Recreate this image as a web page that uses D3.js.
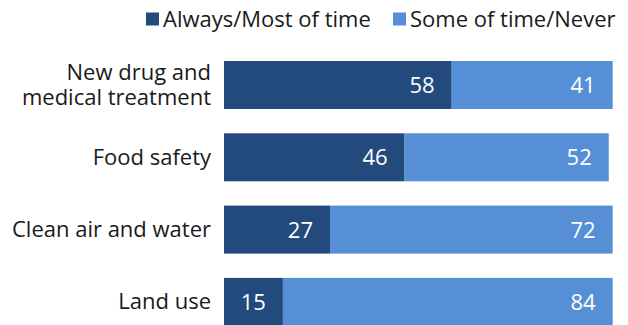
<!DOCTYPE html>
<html>
<head>
<meta charset="utf-8">
<script src="https://cdn.jsdelivr.net/npm/d3@7"></script>
<style>
  html, body { margin: 0; padding: 0; background: #fff; }
  svg { display: block; font-family: "Open Sans", sans-serif; }
</style>
</head>
<body>
<svg id="chart" width="628" height="325"></svg>
<script>
// Survey topics and the two answer groups (percent)
const categories = ["New drug and\nmedical treatment", "Food safety", "Clean air and water", "Land use"];
const alwaysMost = [58, 46, 27, 15];
const someNever = [41, 52, 72, 84];
const seriesNames = ["Always/Most of time", "Some of time/Never"];
const colors = ["#234a7d", "#568fd6"];

const svg = d3.select("#chart");
const left = 224;
const top0 = 61;
const step = 72.3;
const barH = 48;

const x = d3.scaleLinear().domain([0, 100]).range([left, left + 392.6]);
const y = d3.scaleBand()
  .domain(d3.range(categories.length))
  .range([top0, top0 + (categories.length - 1) * step + barH])
  .paddingInner((step - barH) / step)
  .paddingOuter(0);

const rows = categories.map((c, i) => ({ c, a: alwaysMost[i], b: someNever[i], i }));

const g = svg.append("g");

// Stacked bars with white value labels at the inner end of each segment
rows.forEach(r => {
  const segs = [
    { x0: 0, x1: r.a, v: r.a, col: colors[0] },
    { x0: r.a, x1: r.a + r.b, v: r.b, col: colors[1] }
  ];
  const yy = y(r.i);
  const bh = y.bandwidth();
  g.selectAll(null).data(segs).enter().append("rect")
    .attr("x", d => x(d.x0))
    .attr("y", yy)
    .attr("width", d => x(d.x1) - x(d.x0))
    .attr("height", bh)
    .attr("fill", d => d.col);
  g.selectAll(null).data(segs).enter().append("text")
    .attr("x", d => x(d.x1) - 17)
    .attr("y", yy + bh / 2 + 8)
    .attr("text-anchor", "end")
    .attr("fill", "#fff")
    .attr("font-size", 22)
    .text(d => d.v);

  // Category label, right aligned
  const lines = r.c.split("\n");
  const lh = 25;
  const cy = yy + bh / 2;
  const t = g.append("text")
    .attr("text-anchor", "end")
    .attr("font-size", 22)
    .attr("fill", "#1a1a1a");
  lines.forEach((ln, k) => {
    t.append("tspan")
      .attr("x", 211)
      .attr("y", cy + 7.5 + (k - (lines.length - 1) / 2) * lh)
      .text(ln);
  });
});

// Legend
const legendX = [146, 393];
seriesNames.forEach((name, i) => {
  svg.append("rect")
    .attr("x", legendX[i]).attr("y", 12.5)
    .attr("width", 13).attr("height", 13)
    .attr("fill", colors[i]);
  svg.append("text")
    .attr("x", legendX[i] + 17).attr("y", 27)
    .attr("font-size", 22)
    .attr("fill", "#1a1a1a")
    .text(name);
});
</script>
</body>
</html>
